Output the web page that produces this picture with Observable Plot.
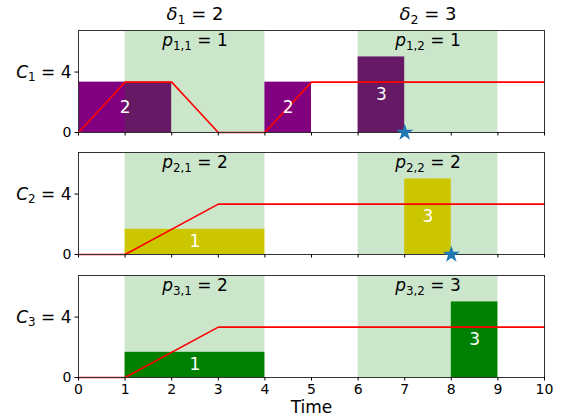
<!DOCTYPE html>
<html>
<head>
<meta charset="utf-8">
<script src="https://cdn.jsdelivr.net/npm/d3@7"></script>
<script src="https://cdn.jsdelivr.net/npm/@observablehq/plot@0.6"></script>
<style>
  html, body { margin: 0; padding: 0; background: white; }
  #chart { width: 566px; height: 420px; overflow: hidden; }
  #chart svg { display: block; overflow: visible; }
</style>
</head>
<body>
<div id="chart"></div>
<script>
// ---- data ----
const xTicks = [0, 1, 2, 3, 4, 5, 6, 7, 8, 9, 10];
const windowStart = [1, 6];
const windowEnd = [4, 9];
const deltaLabels = ["δ_{1} = 2", "δ_{2} = 3"];
const capacityLabels = ["C_{1} = 4", "C_{2} = 4", "C_{3} = 4"];
const pLabels = [
  ["p_{1,1} = 1", "p_{1,2} = 1"],
  ["p_{2,1} = 2", "p_{2,2} = 2"],
  ["p_{3,1} = 2", "p_{3,2} = 3"]
];
const barColors = ["purple", "gold", "green"];
// bars per machine: start, end, height (label = height)
const barStart = [[0, 4, 6], [1, 7], [1, 8]];
const barEnd = [[2, 5, 7], [4, 8], [4, 9]];
const barHeight = [[2, 2, 3], [1, 3], [1, 3]];
// red cumulative line per machine
const lineX = [[0, 1, 2, 3, 4, 5, 10], [0, 1, 3, 10], [0, 1, 3, 10]];
const lineY = [[0, 2, 2, 0, 0, 2, 2], [0, 0, 2, 2], [0, 0, 2, 2]];
// star markers (time) per machine
const starX = [[7], [8], []];

const yMax = 4.05;
const capTick = 2.4;

// ---- layout ----
const heights = [142, 122, 156];
const mTop = [30, 10, 11];
const mBot = [10, 10, 43];

function mathify(svg) {
  d3.select(svg).selectAll("text").each(function () {
    const t = this.textContent;
    const m = /^(.)_\{([^}]*)\}(.*)$/.exec(t);
    if (!m) return;
    const el = d3.select(this);
    el.text(null);
    el.append("tspan").attr("font-style", "italic").text(m[1]);
    el.append("tspan").attr("font-size", "70%").attr("dy", "0.3em").text(m[2]);
    el.append("tspan").attr("dy", "-0.21em").text(m[3]);
  });
}

const windows = windowStart.map((s, i) => ({start: s, end: windowEnd[i], mid: (s + windowEnd[i]) / 2}));

for (let k = 0; k < 3; k++) {
  const bars = barStart[k].map((s, i) => ({x1: s, x2: barEnd[k][i], h: barHeight[k][i], mid: (s + barEnd[k][i]) / 2}));
  const pts = lineX[k].map((x, i) => ({x, y: lineY[k][i]}));
  const stars = starX[k].map(x => ({x, y: 0}));
  const pl = windows.map((w, j) => ({x: w.mid, text: pLabels[k][j]}));
  const last = k === 2;

  const marks = [
    Plot.rect(bars, {x1: "x1", x2: "x2", y1: 0, y2: "h", fill: barColors[k]}),
    Plot.rect(windows, {x1: "start", x2: "end", fill: "rgb(0,128,0)", fillOpacity: 0.2}),
    Plot.line(pts, {x: "x", y: "y", stroke: "red", strokeWidth: 1.6}),
    Plot.frame({stroke: "#333", strokeWidth: 1}),
    Plot.axisX({ticks: xTicks, tickSize: 3.5, tickPadding: 3, fontSize: 14,
      tickFormat: last ? (d => String(d)) : (() => ""), label: null}),
    Plot.axisY({ticks: [0, capTick], tickSize: 3.5, tickPadding: 3.5, fontSize: 14,
      tickFormat: d => d === 0 ? "0" : capacityLabels[k], label: null}),
    Plot.text(bars, {x: "mid", y: d => d.h / 2, text: d => String(d.h), fill: "white", fontSize: 17}),
    Plot.text(pl, {x: "x", frameAnchor: "top", lineAnchor: "middle", dy: 10, text: "text", fontSize: 17})
  ];
  if (k === 0) {
    marks.push(Plot.text(windows.map((w, j) => ({x: w.mid, text: deltaLabels[j]})),
      {x: "x", frameAnchor: "top", lineAnchor: "middle", dy: -16, text: "text", fontSize: 18}));
  }
  if (last) {
    marks.push(Plot.text(["Time"], {frameAnchor: "bottom", lineAnchor: "middle", dy: 30, text: d => d, fontSize: 17}));
  }
  marks.push(Plot.dot(stars, {x: "x", y: "y", symbol: "star", r: 5.4, fill: "#1f77b4", stroke: "none"}));

  const svg = Plot.plot({
    width: 566,
    height: heights[k],
    marginLeft: 78,
    marginRight: 22,
    marginTop: mTop[k],
    marginBottom: mBot[k],
    x: {domain: [0, 10], label: null},
    y: {domain: [0, yMax], label: null},
    style: {fontFamily: "'DejaVu Sans', sans-serif", fontSize: "14px", color: "black", background: "white", overflow: "visible"},
    marks
  });
  mathify(svg);
  // enlarge capacity tick labels
  d3.select(svg).selectAll("text").filter(function () { return this.textContent.startsWith("C"); })
    .attr("font-size", 17);
  document.getElementById("chart").appendChild(svg);
}
</script>
</body>
</html>
